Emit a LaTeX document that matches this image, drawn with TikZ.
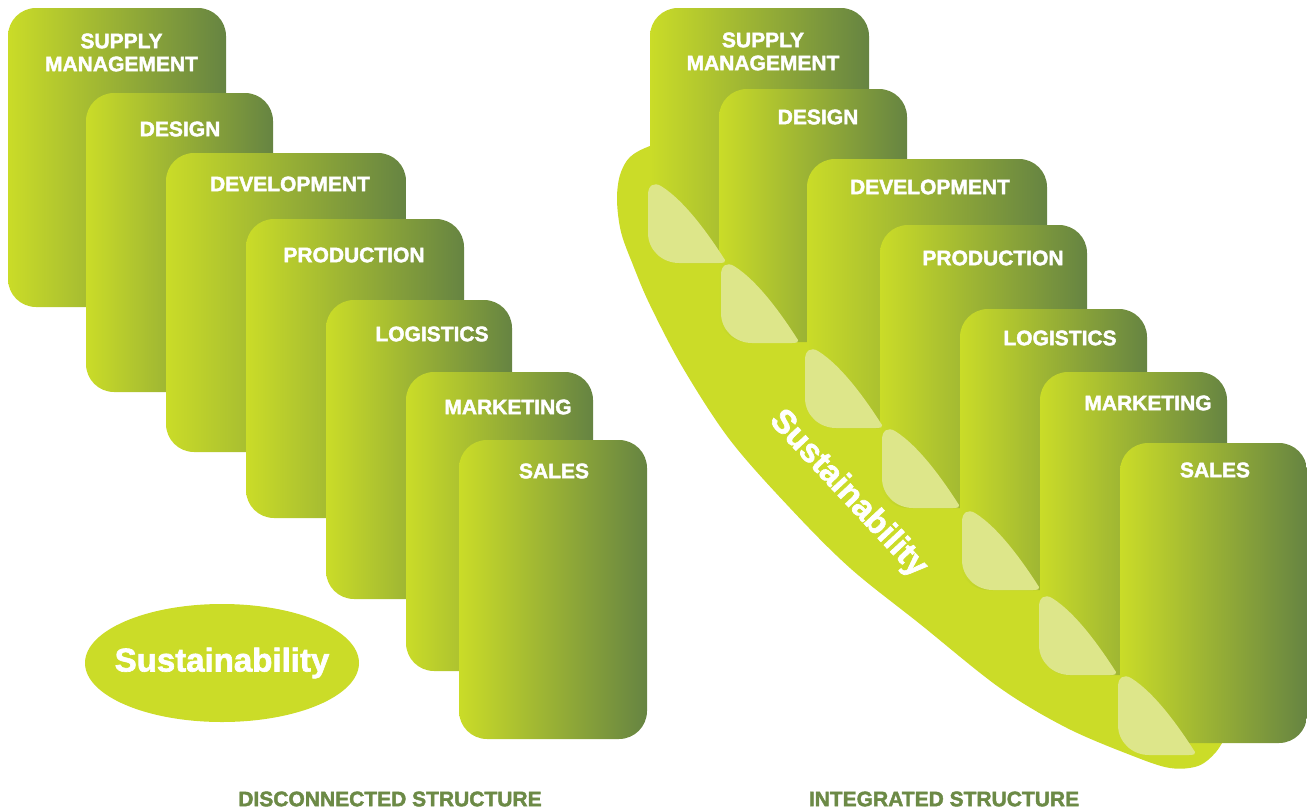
\documentclass[tikz,border=0pt]{standalone}
\usepackage{fontspec}
\setmainfont{Liberation Sans}[BoldFeatures={FakeBold=2}]
\usepackage{tikz}
\definecolor{cardlight}{RGB}{202,220,40}
\definecolor{carddark}{RGB}{102,132,66}
\definecolor{bandgreen}{RGB}{203,220,40}
\definecolor{leafgreen}{RGB}{221,230,138}
\definecolor{labelgreen}{RGB}{108,138,70}

\begin{document}
\begin{tikzpicture}[x=1pt,y=-1pt,
	card/.style={left color=cardlight,right color=carddark,rounded corners=28pt},
	tag/.style={text=white,font=\bfseries\fontsize{21}{23}\selectfont,align=center,inner sep=0pt},
	sust/.style={text=white,font=\bfseries\fontsize{33}{36}\selectfont,inner sep=0pt},
	leaf/.style={fill=leafgreen},
	band/.style={fill=bandgreen},
	caption/.style={text=labelgreen,font=\bfseries\fontsize{21}{23}\selectfont,inner sep=0pt}]
	\useasboundingbox (0,0) rectangle (1307,809);
	% disconnected
	\shade[card] (8,8) rectangle (226,307);
	\node[tag] (lsupply) at (121.5,52.5) {SUPPLY\\MANAGEMENT};
	\shade[card] (86,93) rectangle (273,392);
	\node[tag] (ldesign) at (180,129) {DESIGN};
	\shade[card] (166,153) rectangle (406,452);
	\node[tag] (ldevel) at (290,184) {DEVELOPMENT};
	\shade[card] (246,219) rectangle (464,518);
	\node[tag] (lprod) at (354,255) {PRODUCTION};
	\shade[card] (326,300) rectangle (512,599);
	\node[tag] (llog) at (432,334) {LOGISTICS};
	\shade[card] (406,372) rectangle (593,671);
	\node[tag] (lmark) at (508,407) {MARKETING};
	\shade[card] (459,440) rectangle (647,739);
	\node[tag] (lsales) at (554,471) {SALES};
	\fill[band] (222,663) ellipse [x radius=137pt,y radius=59pt];
	\node[sust] (lsust) at (222,663) {Sustainability};
	\node[caption] (lcap) at (390,799) {DISCONNECTED STRUCTURE};
	% integrated
	\fill[band] plot[smooth,tension=0.55] coordinates {(680,138) (650,146) (630,157) (620,175) (617,200) (621,232) (633,265) (650,305) (683,368) (730,440) (790,508) (850,568) (920,624) (1000,688) (1067,728) (1133,756) (1170,768) (1198,766) (1216,752) (1228,732)} -- cycle;
	\shade[card] (650,8) rectangle (869,263);
	\node[tag] (rsupply) at (763,51.5) {SUPPLY\\MANAGEMENT};
	\shade[card] (719,89) rectangle (907,342);
	\node[tag] (rdesign) at (818,117) {DESIGN};
	\shade[card] (807,159) rectangle (1047,428);
	\node[tag] (rdevel) at (930,187) {DEVELOPMENT};
	\shade[card] (880,225) rectangle (1087,508);
	\node[tag] (rprod) at (993,258) {PRODUCTION};
	\shade[card] (960,309) rectangle (1147,590);
	\node[tag] (rlog) at (1060,338) {LOGISTICS};
	\shade[card] (1040,372) rectangle (1227,675);
	\node[tag] (rmark) at (1148,403) {MARKETING};
	\shade[card] (1120,443) rectangle (1307,743);
	\node[tag] (rsales) at (1215,470) {SALES};
	\fill[leaf,shift={(647,263)}] (78,-3) .. controls (62,-28) and (38,-62) .. (14,-77) .. controls (7,-81) and (1,-78) .. (1,-68) -- (1,-30) .. controls (1,-13) and (15,0) .. (32,0) -- (72,0) .. controls (77,0) and (79,-1) .. (78,-3) -- cycle;
	\fill[leaf,shift={(720,343)}] (78,-3) .. controls (62,-28) and (38,-62) .. (14,-77) .. controls (7,-81) and (1,-78) .. (1,-68) -- (1,-30) .. controls (1,-13) and (15,0) .. (32,0) -- (72,0) .. controls (77,0) and (79,-1) .. (78,-3) -- cycle;
	\fill[leaf,shift={(804,428)}] (78,-3) .. controls (62,-28) and (38,-62) .. (14,-77) .. controls (7,-81) and (1,-78) .. (1,-68) -- (1,-30) .. controls (1,-13) and (15,0) .. (32,0) -- (72,0) .. controls (77,0) and (79,-1) .. (78,-3) -- cycle;
	\fill[leaf,shift={(881,508)}] (78,-3) .. controls (62,-28) and (38,-62) .. (14,-77) .. controls (7,-81) and (1,-78) .. (1,-68) -- (1,-30) .. controls (1,-13) and (15,0) .. (32,0) -- (72,0) .. controls (77,0) and (79,-1) .. (78,-3) -- cycle;
	\fill[leaf,shift={(961,590)}] (78,-3) .. controls (62,-28) and (38,-62) .. (14,-77) .. controls (7,-81) and (1,-78) .. (1,-68) -- (1,-30) .. controls (1,-13) and (15,0) .. (32,0) -- (72,0) .. controls (77,0) and (79,-1) .. (78,-3) -- cycle;
	\fill[leaf,shift={(1038,675)}] (78,-3) .. controls (62,-28) and (38,-62) .. (14,-77) .. controls (7,-81) and (1,-78) .. (1,-68) -- (1,-30) .. controls (1,-13) and (15,0) .. (32,0) -- (72,0) .. controls (77,0) and (79,-1) .. (78,-3) -- cycle;
	\fill[leaf,shift={(1117,755)}] (78,-3) .. controls (62,-28) and (38,-62) .. (14,-77) .. controls (7,-81) and (1,-78) .. (1,-68) -- (1,-30) .. controls (1,-13) and (15,0) .. (32,0) -- (72,0) .. controls (77,0) and (79,-1) .. (78,-3) -- cycle;
	\node[sust,rotate=-47] (rsust) at (848,494) {Sustainability};
	\node[caption] (rcap) at (944,799) {INTEGRATED STRUCTURE};
\end{tikzpicture}
\end{document}
